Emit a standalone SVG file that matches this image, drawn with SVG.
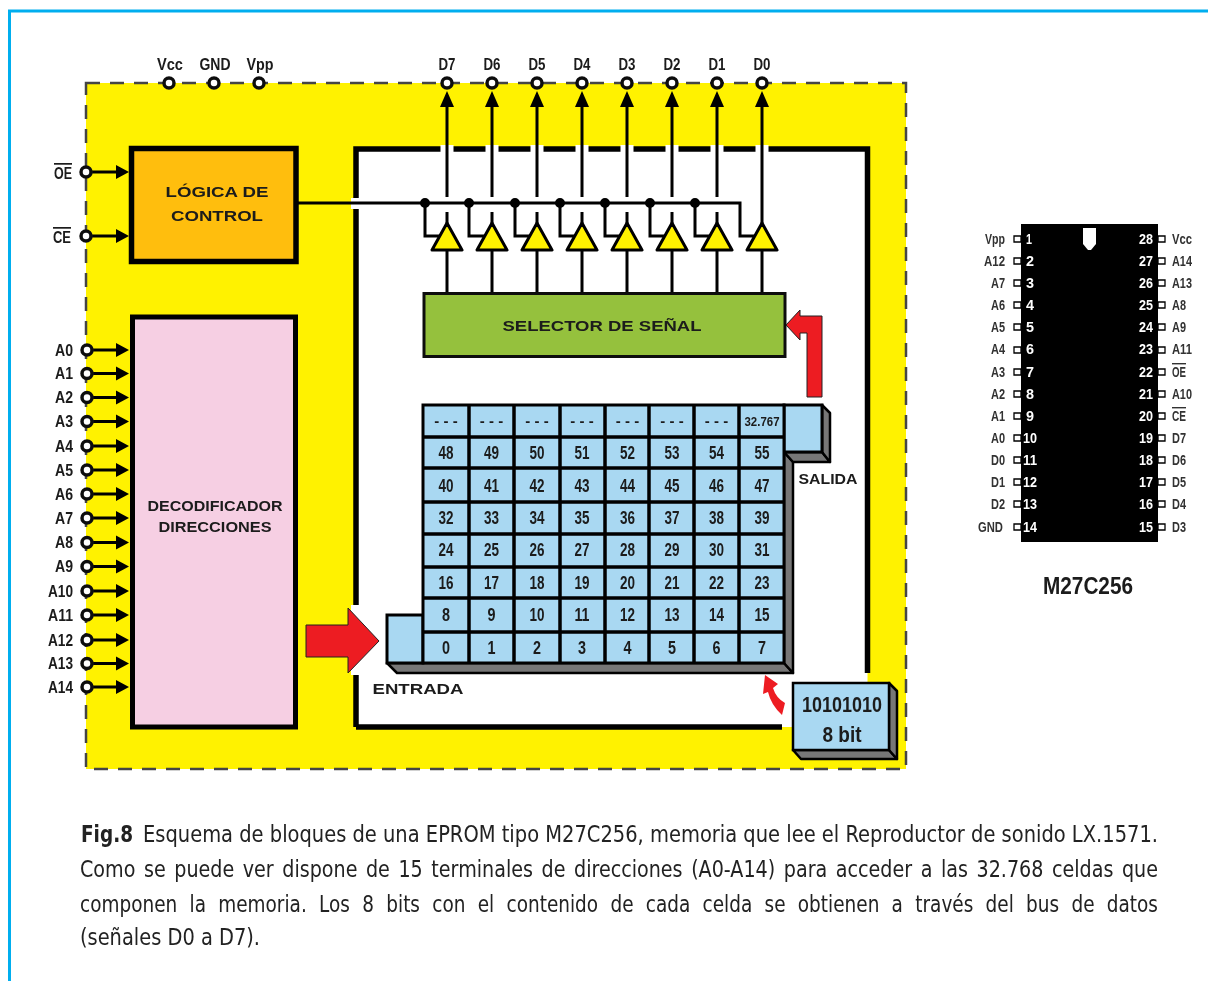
<svg xmlns="http://www.w3.org/2000/svg" width="1208" height="981" viewBox="0 0 1208 981">
<defs><filter id="soft" filterUnits="userSpaceOnUse" x="0" y="0" width="1208" height="981"><feGaussianBlur stdDeviation="0.45"/></filter></defs>
<style>
text{font-family:"Liberation Sans",Arial,sans-serif;fill:#1a1a1a}
.b{font-weight:bold}
.w{stroke:#000;fill:none;stroke-width:3}
.pin{fill:#fff;stroke:#111;stroke-width:3.5}
.ar{fill:#000}
.c{font-weight:bold;font-size:18px;text-anchor:middle}
.lb{font-weight:bold;font-size:17px;text-anchor:end}
.top{font-weight:bold;font-size:16px;text-anchor:middle}
.h{font-weight:bold;font-size:15.500px;text-anchor:middle}
.gray{fill:#777;stroke:#000;stroke-width:2.5;stroke-linejoin:round}
.cell{fill:#A9D8F2;stroke:#000;stroke-width:3}
.red{fill:#ED1C24;stroke:#222;stroke-width:1}
.tri{fill:#FFF200;stroke:#000;stroke-width:3;stroke-linejoin:round}
.cl{font-size:14px;font-weight:bold;fill:#333;text-anchor:end}
.cr{font-size:14px;font-weight:bold;fill:#333}
.nl{font-size:15px;font-weight:bold;fill:#fff}
.nr{font-size:15px;font-weight:bold;fill:#fff;text-anchor:end}
.p{fill:#fff;stroke:#000;stroke-width:1.3}
.cap{font-family:"DejaVu Sans","Noto Sans",sans-serif;font-size:23px;fill:#222}
</style>
<rect width="1208" height="981" fill="#fff"/>
<g id="drawing" filter="url(#soft)">
<path id="frame" d="M9.5 981V11H1208" fill="none" stroke="#00AEEF" stroke-width="3"/>
<g id="chip-area">
<rect x="86" y="83" width="820" height="686" fill="#FFF200"/>
<path d="M86 83H906V769H86Z" fill="none" stroke="#444" stroke-width="2.5" stroke-dasharray="14 10"/>
<path d="M356 149H867.5V682H792V727H356Z" fill="#fff"/>
<path d="M356 727V149H867.5V673M356 727H782" fill="none" stroke="#000" stroke-width="5.5"/>
<path d="M351 605h11v70h-11z M351 198h11v11h-11z" fill="#fff"/>
<path d="M440.500 145h13v8h-13zM485.500 145h13v8h-13zM530.500 145h13v8h-13zM575.500 145h13v8h-13zM620.500 145h13v8h-13zM665.500 145h13v8h-13zM710.500 145h13v8h-13zM755.500 145h13v8h-13z" fill="#fff"/>
</g>
<g id="connectors">
<path class="w" d="M298 203H740V236H755M425 203V236H440M469 203V236H485M515 203V236H530M560 203V236H575M605 203V236H620M650 203V236H665M695 203V236H710"/>
<path class="w" d="M447 100V197M492 100V197M537 100V197M582 100V197M627 100V197M672 100V197M717 100V197M762 100V223M447 212V223M492 212V223M537 212V223M582 212V223M627 212V223M672 212V223M717 212V223M447 250V293M492 250V293M537 250V293M582 250V293M627 250V293M672 250V293M717 250V293M762 250V293"/>
<path d="M420 203a5 5 0 1 0 10 0a5 5 0 1 0-10 0M464 203a5 5 0 1 0 10 0a5 5 0 1 0-10 0M510 203a5 5 0 1 0 10 0a5 5 0 1 0-10 0M555 203a5 5 0 1 0 10 0a5 5 0 1 0-10 0M600 203a5 5 0 1 0 10 0a5 5 0 1 0-10 0M645 203a5 5 0 1 0 10 0a5 5 0 1 0-10 0M690 203a5 5 0 1 0 10 0a5 5 0 1 0-10 0"/>
<path class="ar" d="M447 91l-7 16h14zM492 91l-7 16h14zM537 91l-7 16h14zM582 91l-7 16h14zM627 91l-7 16h14zM672 91l-7 16h14zM717 91l-7 16h14zM762 91l-7 16h14z"/>
<path class="w" d="M86 172H118M86 236H118M87 350H118M87 373.500H118M87 397.500H118M87 421.500H118M87 446H118M87 470H118M87 494H118M87 518H118M87 542.500H118M87 566.500H118M87 591H118M87 615H118M87 640H118M87 663.500H118M87 687H118"/>
<path class="ar" d="M129 172l-13-7v14zM129 236l-13-7v14zM129 350l-13-7v14zM129 373.500l-13-7v14zM129 397.500l-13-7v14zM129 421.500l-13-7v14zM129 446l-13-7v14zM129 470l-13-7v14zM129 494l-13-7v14zM129 518l-13-7v14zM129 542.500l-13-7v14zM129 566.500l-13-7v14zM129 591l-13-7v14zM129 615l-13-7v14zM129 640l-13-7v14zM129 663.500l-13-7v14zM129 687l-13-7v14z"/>
</g>
<g id="pins">
<circle class="pin" cx="169" cy="83" r="5"/><circle class="pin" cx="214" cy="83" r="5"/><circle class="pin" cx="259" cy="83" r="5"/>
<circle class="pin" cx="447" cy="83" r="5"/><circle class="pin" cx="492" cy="83" r="5"/><circle class="pin" cx="537" cy="83" r="5"/><circle class="pin" cx="582" cy="83" r="5"/><circle class="pin" cx="627" cy="83" r="5"/><circle class="pin" cx="672" cy="83" r="5"/><circle class="pin" cx="717" cy="83" r="5"/><circle class="pin" cx="762" cy="83" r="5"/>
<circle class="pin" cx="86" cy="172" r="5"/><circle class="pin" cx="86" cy="236" r="5"/>
<circle class="pin" cx="87" cy="350" r="5"/><circle class="pin" cx="87" cy="373.500" r="5"/><circle class="pin" cx="87" cy="397.500" r="5"/><circle class="pin" cx="87" cy="421.500" r="5"/><circle class="pin" cx="87" cy="446" r="5"/><circle class="pin" cx="87" cy="470" r="5"/><circle class="pin" cx="87" cy="494" r="5"/><circle class="pin" cx="87" cy="518" r="5"/><circle class="pin" cx="87" cy="542.500" r="5"/><circle class="pin" cx="87" cy="566.500" r="5"/><circle class="pin" cx="87" cy="591" r="5"/><circle class="pin" cx="87" cy="615" r="5"/><circle class="pin" cx="87" cy="640" r="5"/><circle class="pin" cx="87" cy="663.500" r="5"/><circle class="pin" cx="87" cy="687" r="5"/>
<text class="top" x="170" y="70" textLength="26" lengthAdjust="spacingAndGlyphs">Vcc</text>
<text class="top" x="215" y="70" textLength="31" lengthAdjust="spacingAndGlyphs">GND</text>
<text class="top" x="260" y="70" textLength="27" lengthAdjust="spacingAndGlyphs">Vpp</text>
<text class="top" x="447" y="70" textLength="17" lengthAdjust="spacingAndGlyphs">D7</text>
<text class="top" x="492" y="70" textLength="17" lengthAdjust="spacingAndGlyphs">D6</text>
<text class="top" x="537" y="70" textLength="17" lengthAdjust="spacingAndGlyphs">D5</text>
<text class="top" x="582" y="70" textLength="17" lengthAdjust="spacingAndGlyphs">D4</text>
<text class="top" x="627" y="70" textLength="17" lengthAdjust="spacingAndGlyphs">D3</text>
<text class="top" x="672" y="70" textLength="17" lengthAdjust="spacingAndGlyphs">D2</text>
<text class="top" x="717" y="70" textLength="17" lengthAdjust="spacingAndGlyphs">D1</text>
<text class="top" x="762" y="70" textLength="17" lengthAdjust="spacingAndGlyphs">D0</text>
<text class="lb" x="72" y="179" text-decoration="overline" textLength="18" lengthAdjust="spacingAndGlyphs">OE</text>
<text class="lb" x="71" y="243" text-decoration="overline" textLength="18" lengthAdjust="spacingAndGlyphs">CE</text>
<text class="lb" x="73" y="356" textLength="18" lengthAdjust="spacingAndGlyphs">A0</text>
<text class="lb" x="73" y="379" textLength="18" lengthAdjust="spacingAndGlyphs">A1</text>
<text class="lb" x="73" y="403" textLength="18" lengthAdjust="spacingAndGlyphs">A2</text>
<text class="lb" x="73" y="427" textLength="18" lengthAdjust="spacingAndGlyphs">A3</text>
<text class="lb" x="73" y="452" textLength="18" lengthAdjust="spacingAndGlyphs">A4</text>
<text class="lb" x="73" y="476" textLength="18" lengthAdjust="spacingAndGlyphs">A5</text>
<text class="lb" x="73" y="500" textLength="18" lengthAdjust="spacingAndGlyphs">A6</text>
<text class="lb" x="73" y="524" textLength="18" lengthAdjust="spacingAndGlyphs">A7</text>
<text class="lb" x="73" y="548" textLength="18" lengthAdjust="spacingAndGlyphs">A8</text>
<text class="lb" x="73" y="572" textLength="18" lengthAdjust="spacingAndGlyphs">A9</text>
<text class="lb" x="73" y="597" textLength="25" lengthAdjust="spacingAndGlyphs">A10</text>
<text class="lb" x="73" y="621" textLength="25" lengthAdjust="spacingAndGlyphs">A11</text>
<text class="lb" x="73" y="646" textLength="25" lengthAdjust="spacingAndGlyphs">A12</text>
<text class="lb" x="73" y="669" textLength="25" lengthAdjust="spacingAndGlyphs">A13</text>
<text class="lb" x="73" y="693" textLength="25" lengthAdjust="spacingAndGlyphs">A14</text>
</g>
<g id="logica">
<rect x="131.500" y="148.500" width="164.500" height="113" fill="#FFBE0A" stroke="#000" stroke-width="5.500"/>
<text class="h" x="217" y="197" textLength="103" lengthAdjust="spacingAndGlyphs">LÓGICA DE</text>
<text class="h" x="217" y="221" textLength="92" lengthAdjust="spacingAndGlyphs">CONTROL</text>
</g>
<g id="decodificador">
<rect x="132.500" y="317" width="163" height="410" fill="#F6CFE3" stroke="#000" stroke-width="5"/>
<text class="h" x="215" y="511" textLength="135" lengthAdjust="spacingAndGlyphs">DECODIFICADOR</text>
<text class="h" x="215" y="532" textLength="113" lengthAdjust="spacingAndGlyphs">DIRECCIONES</text>
</g>
<g id="buffers">
<path class="tri" d="M447 223l15 27h-30zM492 223l15 27h-30zM537 223l15 27h-30zM582 223l15 27h-30zM627 223l15 27h-30zM672 223l15 27h-30zM717 223l15 27h-30zM762 223l15 27h-30z"/>
</g>
<g id="selector">
<rect x="424" y="293.500" width="361" height="63" fill="#95C13D" stroke="#111" stroke-width="3"/>
<text class="h" x="602" y="331" textLength="199" lengthAdjust="spacingAndGlyphs">SELECTOR DE SEÑAL</text>
</g>
<g id="memoria">
<path class="gray" d="M387 663H784L793 673H397Z"/>
<path class="gray" d="M784 452V663L793 673V462Z"/>
<path class="gray" d="M784 452H822L830 462H793Z"/>
<path class="gray" d="M822 405L830 413V462L822 452Z"/>
<rect class="cell" x="387" y="615" width="36" height="48"/>
<rect class="cell" x="784" y="405" width="38" height="47"/>
<rect class="cell" x="423" y="405" width="361" height="258"/>
<path d="M469 405V663M514 405V663M560 405V663M605 405V663M649 405V663M694 405V663M739 405V663M423 437H784M423 468H784M423 502H784M423 534H784M423 567H784M423 598H784M423 632H784" fill="none" stroke="#000" stroke-width="3.500"/>
<text class="c" x="446" y="426" style="font-size:15px">- - -</text><text class="c" x="491.500" y="426" style="font-size:15px">- - -</text><text class="c" x="537" y="426" style="font-size:15px">- - -</text><text class="c" x="582" y="426" style="font-size:15px">- - -</text><text class="c" x="627.500" y="426" style="font-size:15px">- - -</text><text class="c" x="672" y="426" style="font-size:15px">- - -</text><text class="c" x="716.500" y="426" style="font-size:15px">- - -</text><text class="c" x="762" y="426" style="font-size:12px" textLength="35" lengthAdjust="spacingAndGlyphs">32.767</text>
<text class="c" x="446" y="459" textLength="15" lengthAdjust="spacingAndGlyphs">48</text><text class="c" x="491.500" y="459" textLength="15" lengthAdjust="spacingAndGlyphs">49</text><text class="c" x="537" y="459" textLength="15" lengthAdjust="spacingAndGlyphs">50</text><text class="c" x="582" y="459" textLength="15" lengthAdjust="spacingAndGlyphs">51</text><text class="c" x="627.500" y="459" textLength="15" lengthAdjust="spacingAndGlyphs">52</text><text class="c" x="672" y="459" textLength="15" lengthAdjust="spacingAndGlyphs">53</text><text class="c" x="716.500" y="459" textLength="15" lengthAdjust="spacingAndGlyphs">54</text><text class="c" x="762" y="459" textLength="15" lengthAdjust="spacingAndGlyphs">55</text>
<text class="c" x="446" y="492" textLength="15" lengthAdjust="spacingAndGlyphs">40</text><text class="c" x="491.500" y="492" textLength="15" lengthAdjust="spacingAndGlyphs">41</text><text class="c" x="537" y="492" textLength="15" lengthAdjust="spacingAndGlyphs">42</text><text class="c" x="582" y="492" textLength="15" lengthAdjust="spacingAndGlyphs">43</text><text class="c" x="627.500" y="492" textLength="15" lengthAdjust="spacingAndGlyphs">44</text><text class="c" x="672" y="492" textLength="15" lengthAdjust="spacingAndGlyphs">45</text><text class="c" x="716.500" y="492" textLength="15" lengthAdjust="spacingAndGlyphs">46</text><text class="c" x="762" y="492" textLength="15" lengthAdjust="spacingAndGlyphs">47</text>
<text class="c" x="446" y="524" textLength="15" lengthAdjust="spacingAndGlyphs">32</text><text class="c" x="491.500" y="524" textLength="15" lengthAdjust="spacingAndGlyphs">33</text><text class="c" x="537" y="524" textLength="15" lengthAdjust="spacingAndGlyphs">34</text><text class="c" x="582" y="524" textLength="15" lengthAdjust="spacingAndGlyphs">35</text><text class="c" x="627.500" y="524" textLength="15" lengthAdjust="spacingAndGlyphs">36</text><text class="c" x="672" y="524" textLength="15" lengthAdjust="spacingAndGlyphs">37</text><text class="c" x="716.500" y="524" textLength="15" lengthAdjust="spacingAndGlyphs">38</text><text class="c" x="762" y="524" textLength="15" lengthAdjust="spacingAndGlyphs">39</text>
<text class="c" x="446" y="556" textLength="15" lengthAdjust="spacingAndGlyphs">24</text><text class="c" x="491.500" y="556" textLength="15" lengthAdjust="spacingAndGlyphs">25</text><text class="c" x="537" y="556" textLength="15" lengthAdjust="spacingAndGlyphs">26</text><text class="c" x="582" y="556" textLength="15" lengthAdjust="spacingAndGlyphs">27</text><text class="c" x="627.500" y="556" textLength="15" lengthAdjust="spacingAndGlyphs">28</text><text class="c" x="672" y="556" textLength="15" lengthAdjust="spacingAndGlyphs">29</text><text class="c" x="716.500" y="556" textLength="15" lengthAdjust="spacingAndGlyphs">30</text><text class="c" x="762" y="556" textLength="15" lengthAdjust="spacingAndGlyphs">31</text>
<text class="c" x="446" y="589" textLength="15" lengthAdjust="spacingAndGlyphs">16</text><text class="c" x="491.500" y="589" textLength="15" lengthAdjust="spacingAndGlyphs">17</text><text class="c" x="537" y="589" textLength="15" lengthAdjust="spacingAndGlyphs">18</text><text class="c" x="582" y="589" textLength="15" lengthAdjust="spacingAndGlyphs">19</text><text class="c" x="627.500" y="589" textLength="15" lengthAdjust="spacingAndGlyphs">20</text><text class="c" x="672" y="589" textLength="15" lengthAdjust="spacingAndGlyphs">21</text><text class="c" x="716.500" y="589" textLength="15" lengthAdjust="spacingAndGlyphs">22</text><text class="c" x="762" y="589" textLength="15" lengthAdjust="spacingAndGlyphs">23</text>
<text class="c" x="446" y="621" textLength="8" lengthAdjust="spacingAndGlyphs">8</text><text class="c" x="491.500" y="621" textLength="8" lengthAdjust="spacingAndGlyphs">9</text><text class="c" x="537" y="621" textLength="15" lengthAdjust="spacingAndGlyphs">10</text><text class="c" x="582" y="621" textLength="15" lengthAdjust="spacingAndGlyphs">11</text><text class="c" x="627.500" y="621" textLength="15" lengthAdjust="spacingAndGlyphs">12</text><text class="c" x="672" y="621" textLength="15" lengthAdjust="spacingAndGlyphs">13</text><text class="c" x="716.500" y="621" textLength="15" lengthAdjust="spacingAndGlyphs">14</text><text class="c" x="762" y="621" textLength="15" lengthAdjust="spacingAndGlyphs">15</text>
<text class="c" x="446" y="654" textLength="8" lengthAdjust="spacingAndGlyphs">0</text><text class="c" x="491.500" y="654" textLength="8" lengthAdjust="spacingAndGlyphs">1</text><text class="c" x="537" y="654" textLength="8" lengthAdjust="spacingAndGlyphs">2</text><text class="c" x="582" y="654" textLength="8" lengthAdjust="spacingAndGlyphs">3</text><text class="c" x="627.500" y="654" textLength="8" lengthAdjust="spacingAndGlyphs">4</text><text class="c" x="672" y="654" textLength="8" lengthAdjust="spacingAndGlyphs">5</text><text class="c" x="716.500" y="654" textLength="8" lengthAdjust="spacingAndGlyphs">6</text><text class="c" x="762" y="654" textLength="8" lengthAdjust="spacingAndGlyphs">7</text>
<text class="h" x="418" y="694" textLength="91" lengthAdjust="spacingAndGlyphs">ENTRADA</text>
<text class="h" x="828" y="484" textLength="59" lengthAdjust="spacingAndGlyphs">SALIDA</text>
</g>
<g id="flechas">
<path class="red" d="M306 625H348V608L379 641L348 673V657H306Z"/>
<path class="red" d="M807 397V333H800V340L786 325L800 310V316H822V397Z"/>
<path class="red" style="stroke:none" d="M765 675L778 684L773 688Q776 698 785 703L782 715Q771 705 768 692L763 694Z"/>
</g>
<g id="dato">
<path class="gray" d="M793 750H889L897 759H801Z"/>
<path class="gray" d="M889 683L897 691V759L889 750Z"/>
<rect x="793" y="683" width="96" height="67" fill="#A9D8F2" stroke="#000" stroke-width="2.500"/>
<text x="842" y="712" font-size="22" font-weight="bold" text-anchor="middle" textLength="80" lengthAdjust="spacingAndGlyphs">10101010</text>
<text x="842" y="742" font-size="22" font-weight="bold" text-anchor="middle" textLength="39" lengthAdjust="spacingAndGlyphs">8 bit</text>
</g>
<g id="M27C256">
<rect x="1021" y="224" width="137" height="318" fill="#000"/>
<path d="M1083 228H1096V244L1091 250H1088L1083 244Z" fill="#fff"/>
<path class="p" d="M1014 236h7v6h-7zM1014 258h7v6h-7zM1014 280h7v6h-7zM1014 302h7v6h-7zM1014 324h7v6h-7zM1014 347h7v6h-7zM1014 369h7v6h-7zM1014 391h7v6h-7zM1014 413h7v6h-7zM1014 435h7v6h-7zM1014 457h7v6h-7zM1014 479h7v6h-7zM1014 501h7v6h-7zM1014 524h7v6h-7z"/>
<path class="p" d="M1158 236h7v6h-7zM1158 258h7v6h-7zM1158 280h7v6h-7zM1158 302h7v6h-7zM1158 324h7v6h-7zM1158 347h7v6h-7zM1158 369h7v6h-7zM1158 391h7v6h-7zM1158 413h7v6h-7zM1158 435h7v6h-7zM1158 457h7v6h-7zM1158 479h7v6h-7zM1158 501h7v6h-7zM1158 524h7v6h-7z"/>
<text class="cl" x="1005" y="244" textLength="20" lengthAdjust="spacingAndGlyphs">Vpp</text><text class="cl" x="1005" y="266" textLength="21" lengthAdjust="spacingAndGlyphs">A12</text><text class="cl" x="1005" y="288" textLength="14" lengthAdjust="spacingAndGlyphs">A7</text><text class="cl" x="1005" y="310" textLength="14" lengthAdjust="spacingAndGlyphs">A6</text><text class="cl" x="1005" y="332" textLength="14" lengthAdjust="spacingAndGlyphs">A5</text><text class="cl" x="1005" y="354" textLength="14" lengthAdjust="spacingAndGlyphs">A4</text><text class="cl" x="1005" y="377" textLength="14" lengthAdjust="spacingAndGlyphs">A3</text><text class="cl" x="1005" y="399" textLength="14" lengthAdjust="spacingAndGlyphs">A2</text><text class="cl" x="1005" y="421" textLength="14" lengthAdjust="spacingAndGlyphs">A1</text><text class="cl" x="1005" y="443" textLength="14" lengthAdjust="spacingAndGlyphs">A0</text><text class="cl" x="1005" y="465" textLength="14" lengthAdjust="spacingAndGlyphs">D0</text><text class="cl" x="1005" y="487" textLength="14" lengthAdjust="spacingAndGlyphs">D1</text><text class="cl" x="1005" y="509" textLength="14" lengthAdjust="spacingAndGlyphs">D2</text><text class="cl" x="1003" y="532" textLength="25" lengthAdjust="spacingAndGlyphs">GND</text>
<text class="cr" x="1172" y="244" textLength="20" lengthAdjust="spacingAndGlyphs">Vcc</text><text class="cr" x="1172" y="266" textLength="20" lengthAdjust="spacingAndGlyphs">A14</text><text class="cr" x="1172" y="288" textLength="20" lengthAdjust="spacingAndGlyphs">A13</text><text class="cr" x="1172" y="310" textLength="14" lengthAdjust="spacingAndGlyphs">A8</text><text class="cr" x="1172" y="332" textLength="14" lengthAdjust="spacingAndGlyphs">A9</text><text class="cr" x="1172" y="354" textLength="20" lengthAdjust="spacingAndGlyphs">A11</text><text class="cr" x="1172" y="377" text-decoration="overline" textLength="14" lengthAdjust="spacingAndGlyphs">OE</text><text class="cr" x="1172" y="399" textLength="20" lengthAdjust="spacingAndGlyphs">A10</text><text class="cr" x="1172" y="421" text-decoration="overline" textLength="14" lengthAdjust="spacingAndGlyphs">CE</text><text class="cr" x="1172" y="443" textLength="14" lengthAdjust="spacingAndGlyphs">D7</text><text class="cr" x="1172" y="465" textLength="14" lengthAdjust="spacingAndGlyphs">D6</text><text class="cr" x="1172" y="487" textLength="14" lengthAdjust="spacingAndGlyphs">D5</text><text class="cr" x="1172" y="509" textLength="14" lengthAdjust="spacingAndGlyphs">D4</text><text class="cr" x="1172" y="532" textLength="14" lengthAdjust="spacingAndGlyphs">D3</text>
<text class="nl" x="1026" y="244" textLength="6" lengthAdjust="spacingAndGlyphs">1</text><text class="nl" x="1026" y="266" textLength="8" lengthAdjust="spacingAndGlyphs">2</text><text class="nl" x="1026" y="288" textLength="8" lengthAdjust="spacingAndGlyphs">3</text><text class="nl" x="1026" y="310" textLength="8" lengthAdjust="spacingAndGlyphs">4</text><text class="nl" x="1026" y="332" textLength="8" lengthAdjust="spacingAndGlyphs">5</text><text class="nl" x="1026" y="354" textLength="8" lengthAdjust="spacingAndGlyphs">6</text><text class="nl" x="1026" y="377" textLength="8" lengthAdjust="spacingAndGlyphs">7</text><text class="nl" x="1026" y="399" textLength="8" lengthAdjust="spacingAndGlyphs">8</text><text class="nl" x="1026" y="421" textLength="8" lengthAdjust="spacingAndGlyphs">9</text><text class="nl" x="1023" y="443" textLength="14" lengthAdjust="spacingAndGlyphs">10</text><text class="nl" x="1023" y="465" textLength="14" lengthAdjust="spacingAndGlyphs">11</text><text class="nl" x="1023" y="487" textLength="14" lengthAdjust="spacingAndGlyphs">12</text><text class="nl" x="1023" y="509" textLength="14" lengthAdjust="spacingAndGlyphs">13</text><text class="nl" x="1023" y="532" textLength="14" lengthAdjust="spacingAndGlyphs">14</text>
<text class="nr" x="1153" y="244" textLength="14" lengthAdjust="spacingAndGlyphs">28</text><text class="nr" x="1153" y="266" textLength="14" lengthAdjust="spacingAndGlyphs">27</text><text class="nr" x="1153" y="288" textLength="14" lengthAdjust="spacingAndGlyphs">26</text><text class="nr" x="1153" y="310" textLength="14" lengthAdjust="spacingAndGlyphs">25</text><text class="nr" x="1153" y="332" textLength="14" lengthAdjust="spacingAndGlyphs">24</text><text class="nr" x="1153" y="354" textLength="14" lengthAdjust="spacingAndGlyphs">23</text><text class="nr" x="1153" y="377" textLength="14" lengthAdjust="spacingAndGlyphs">22</text><text class="nr" x="1153" y="399" textLength="14" lengthAdjust="spacingAndGlyphs">21</text><text class="nr" x="1153" y="421" textLength="14" lengthAdjust="spacingAndGlyphs">20</text><text class="nr" x="1153" y="443" textLength="14" lengthAdjust="spacingAndGlyphs">19</text><text class="nr" x="1153" y="465" textLength="14" lengthAdjust="spacingAndGlyphs">18</text><text class="nr" x="1153" y="487" textLength="14" lengthAdjust="spacingAndGlyphs">17</text><text class="nr" x="1153" y="509" textLength="14" lengthAdjust="spacingAndGlyphs">16</text><text class="nr" x="1153" y="532" textLength="14" lengthAdjust="spacingAndGlyphs">15</text>
<text x="1088" y="594" font-size="24" font-weight="bold" text-anchor="middle" textLength="90" lengthAdjust="spacingAndGlyphs">M27C256</text>
</g>
<g id="caption">
<text class="cap" x="81" y="842" font-weight="bold" textLength="52" lengthAdjust="spacingAndGlyphs">Fig.8</text>
<text class="cap" transform="scale(0.8 1)" x="178.750" y="842" textLength="1268.750" lengthAdjust="spacingAndGlyphs">Esquema de bloques de una EPROM tipo M27C256, memoria que lee el Reproductor de sonido LX.1571.</text>
<text class="cap" transform="scale(0.8 1)" x="100" y="877" textLength="1347.500" lengthAdjust="spacingAndGlyphs" style="word-spacing:3px">Como se puede ver dispone de 15 terminales de direcciones (A0-A14) para acceder a las 32.768 celdas que</text>
<text class="cap" transform="scale(0.8 1)" x="100" y="912" textLength="1347.500" lengthAdjust="spacingAndGlyphs" style="word-spacing:8px">componen la memoria. Los 8 bits con el contenido de cada celda se obtienen a través del bus de datos</text>
<text class="cap" x="80" y="945" textLength="180" lengthAdjust="spacingAndGlyphs">(señales D0 a D7).</text>
</g>
</g>
</svg>
